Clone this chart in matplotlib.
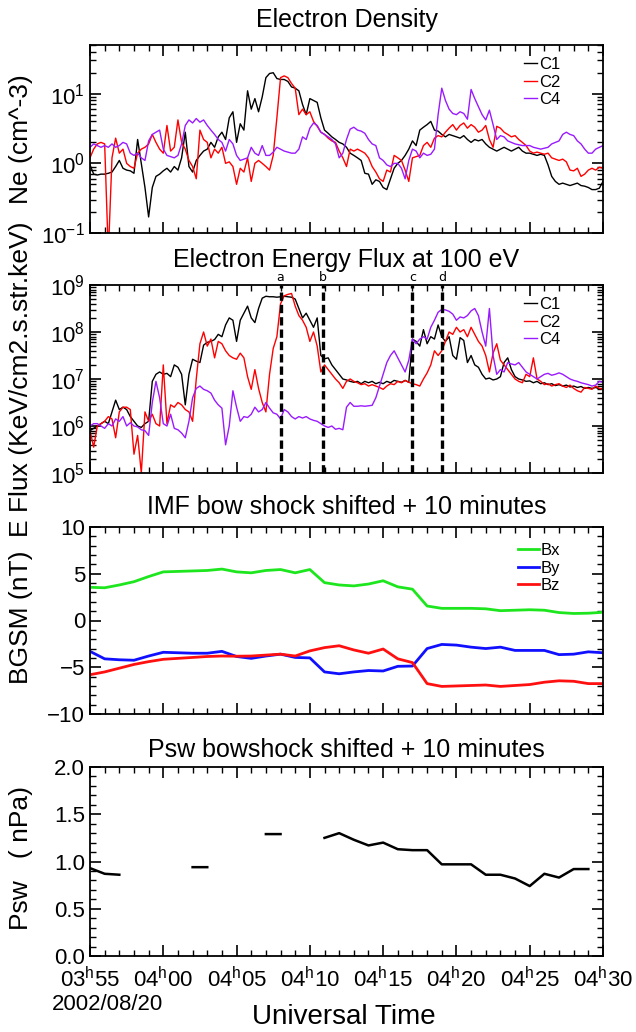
"""
Cluster electron density / 100 eV electron energy flux on 2002-08-20,
with the bow-shock shifted IMF and solar-wind pressure below.
Writes out.png.
"""

import numpy as np
import matplotlib
matplotlib.use("Agg")
import matplotlib.pyplot as plt
from matplotlib.ticker import FixedLocator, FuncFormatter, LogLocator, MultipleLocator

# ---------------------------------------------------------------- data
# minutes after 03:55 UT; C1/C2/C4 samples every 15 s
t_fast = np.arange(0, 35.01, 0.25)

# electron density (cm^-3)
ne_c1 = [0.95, 0.7, 0.68, 0.7, 0.7, 0.72, 0.75, 0.9,
         1.1, 0.85, 0.8, 0.78, 0.72, 2.2, 1.0, 0.45,
         0.17, 0.45, 0.65, 0.7, 0.78, 0.85, 0.75, 0.9,
         0.8, 1.2, 2.8, 0.9, 0.75, 1.1, 1.3, 1.5,
         1.6, 2.0, 1.7, 2.4, 2.8, 2.2, 4.5, 5.5,
         2.0, 3.7, 3.0, 11.0, 6.0, 8.5, 5.5, 9.0,
         17.0, 19.5, 20.0, 16.5, 16.0, 16.0, 15.0, 12.5,
         12.0, 11.0, 7.0, 5.0, 8.5, 8.0, 7.5, 4.5,
         3.0, 2.7, 2.4, 2.2, 2.0, 1.9, 1.7, 1.4,
         1.3, 1.2, 1.1, 0.72, 0.7, 0.5, 0.58, 0.55,
         0.45, 0.42, 0.6, 0.85, 1.0, 1.1, 1.3, 1.6,
         2.1, 1.8, 3.0, 3.3, 3.6, 4.0, 3.0, 2.9,
         2.6, 2.4, 2.6, 2.5, 2.4, 2.3, 2.5, 2.2,
         2.0, 2.2, 2.1, 2.2, 1.9, 1.7, 1.6, 1.5,
         1.6, 1.7, 1.6, 1.5, 1.6, 1.7, 1.5, 1.4,
         1.4, 1.35, 1.3, 1.35, 1.3, 0.95, 0.65, 0.55,
         0.5, 0.52, 0.5, 0.48, 0.5, 0.52, 0.48, 0.47,
         0.45, 0.42, 0.42, 0.44, 0.55]
ne_c2 = [1.2, 1.6, 1.9, 2.0, 1.9, 0.05, 1.2, 2.3,
         1.4, 1.6, 1.0, 0.9, 0.85, 1.4, 1.6, 1.7,
         1.9, 2.6, 2.0, 1.6, 1.4, 3.5, 1.5, 1.7,
         4.2, 2.0, 1.6, 1.1, 0.9, 0.6, 3.0, 2.2,
         2.0, 1.2, 1.6, 1.4, 1.7, 1.0, 1.05, 0.9,
         0.5, 0.85, 0.75, 1.2, 0.55, 1.0, 1.1, 1.0,
         0.9, 0.8, 1.3, 4.5, 17.0, 18.0, 17.0, 14.0,
         12.0, 5.0, 6.0, 5.0, 5.5, 4.0, 3.4, 2.8,
         2.6, 2.3, 2.1, 2.0, 1.5, 1.2, 0.9, 1.6,
         1.5, 1.6, 1.5, 1.4, 1.2, 0.9, 0.75, 0.6,
         0.55, 0.8, 0.75, 1.3, 1.2, 1.1, 0.8, 0.55,
         1.2, 1.25, 1.3, 1.8, 2.0, 1.7, 2.3, 2.5,
         2.4, 2.8, 3.2, 3.6, 3.0, 3.5, 3.8, 3.2,
         3.6, 3.3, 2.8, 3.0, 3.5, 2.2, 1.7, 3.4,
         3.2, 2.8, 2.6, 2.4, 2.5, 2.2, 2.0, 1.8,
         1.5, 1.4, 1.45, 1.4, 1.35, 1.4, 1.2, 1.15,
         1.1, 1.15, 1.05, 0.8, 0.78, 0.85, 0.65, 0.7,
         0.8, 0.85, 0.8, 0.88, 0.85]
ne_c4 = [1.7, 1.9, 1.8, 1.7, 1.8, 1.7, 1.9, 1.7,
         1.8, 2.0, 1.9, 1.4, 1.3, 1.4, 1.2, 1.1,
         2.1, 2.6, 2.8, 3.0, 1.6, 1.3, 1.25, 1.2,
         1.3, 1.9, 3.5, 4.2, 3.8, 4.4, 3.9, 4.2,
         3.5, 3.0, 2.6, 2.2, 2.0, 1.5, 2.2, 1.9,
         1.3, 1.1, 1.15, 1.2, 1.7, 1.4, 1.3, 1.8,
         1.3, 1.3, 1.45, 1.7, 1.6, 1.5, 1.45, 1.4,
         1.4, 1.6, 2.4, 2.2, 3.2, 3.8, 3.5, 2.8,
         2.6, 2.4, 2.2, 1.9, 1.2, 1.4, 2.2, 3.1,
         3.3, 3.0, 2.9, 2.7, 2.2, 1.9, 1.8, 1.2,
         1.1, 0.95, 0.9, 1.0, 1.0, 0.85, 0.6, 1.1,
         1.6, 1.5, 1.2, 1.4, 1.3, 1.35, 1.6, 5.0,
         12.0, 8.0, 6.0, 5.2, 5.0, 5.5, 5.2, 4.3,
         11.5, 8.5, 6.5, 5.0, 4.2, 5.8, 3.6, 2.2,
         2.5, 2.4, 2.1, 2.0, 1.9, 1.85, 1.8, 1.8,
         1.8, 1.7, 1.65, 1.6, 1.65, 1.7, 1.9, 2.0,
         2.1, 2.6, 2.8, 2.6, 2.5, 2.1, 1.9, 1.6,
         1.4, 1.4, 1.6, 1.7, 1.8]

# log10 of 100 eV electron energy flux (keV/cm2.s.str.keV)
lflux_c1 = [5.9, 5.95, 6.0, 6.05, 6.1, 6.05, 6.3, 6.55,
            6.35, 6.4, 6.35, 6.2, 6.1, 6.0, 5.97, 6.05,
            6.1, 6.95, 7.1, 7.15, 7.1, 7.12, 7.05, 7.3,
            7.25, 7.1, 6.45, 7.1, 7.42, 7.38, 7.35, 7.72,
            7.78, 7.8, 7.84, 7.95, 7.9, 8.15, 8.3, 8.25,
            7.8, 8.25, 8.4, 8.55, 8.3, 8.2, 8.5, 8.72,
            8.76, 8.75, 8.75, 8.74, 8.75, 8.76, 8.75, 8.74,
            8.7, 8.5, 8.3, 8.4, 8.25, 8.1, 8.3, 7.5,
            7.43, 7.45, 7.3, 7.2, 7.1, 7.0, 6.98, 6.95,
            6.93, 6.95, 6.9, 6.95, 6.92, 6.95, 6.9, 6.93,
            6.9, 6.95, 6.92, 6.97, 6.95, 6.93, 6.97, 6.93,
            7.85, 7.8, 7.7, 8.05, 7.75, 7.9, 7.85, 8.15,
            7.9, 7.8, 7.9, 7.5, 7.42, 7.88, 7.82, 7.35,
            7.5, 7.3, 7.25, 7.1, 7.0, 7.02, 6.98, 7.0,
            7.05, 7.35, 7.45, 7.2, 7.05, 7.0, 6.98, 6.95,
            6.96, 6.92, 6.95, 6.9, 6.92, 6.88, 6.9, 6.86,
            6.88, 6.85, 6.87, 6.83, 6.85, 6.82, 6.84, 6.8,
            6.82, 6.8, 6.82, 6.79, 6.8]
lflux_c2 = [5.9, 5.55, 6.0, 6.05, 6.1, 6.2, 6.15, 5.75,
            6.3, 6.4, 6.4, 6.35, 5.4, 5.8, 5.0, 6.3,
            6.1, 6.25, 6.05, 6.0, 7.3, 6.05, 6.45, 6.4,
            6.5, 6.45, 6.35, 6.3, 6.1, 7.0, 7.75, 8.0,
            7.7, 7.85, 7.45, 7.8, 7.75, 7.6, 7.5, 7.45,
            7.42, 7.55, 7.45, 7.05, 6.78, 7.2, 6.8, 6.5,
            6.3, 7.1, 7.65, 7.9, 8.6, 8.77, 8.8, 8.82,
            8.55, 8.35, 8.25, 8.1, 7.8, 8.0, 7.7, 7.15,
            7.3, 7.2, 7.1, 7.0, 6.92, 6.8, 6.95, 7.0,
            6.95, 6.92, 6.88, 6.9, 6.85, 6.88, 6.85, 6.82,
            6.78, 6.85, 6.9, 6.88, 6.95, 6.92, 6.97, 6.93,
            6.9, 6.88, 6.85, 7.0, 7.13, 7.3, 7.6, 7.5,
            7.6, 7.8, 8.0, 7.95, 8.1, 8.0, 8.05, 7.9,
            8.1, 7.95, 7.8, 7.7, 7.5, 7.15, 7.55, 7.75,
            7.4, 7.3, 7.2, 7.1, 7.0, 6.95, 6.92, 7.1,
            7.05, 7.45, 7.0, 6.95, 6.88, 6.9, 6.85, 6.88,
            6.9, 6.85, 6.82, 6.87, 6.8, 6.75, 6.72, 6.82,
            6.8, 6.78, 6.85, 6.8, 6.78]
lflux_c4 = [6.0, 6.05, 6.05, 6.0, 5.95, 6.05, 6.0, 6.15,
            6.1, 6.2, 6.0, 6.07, 6.0, 5.98, 5.92, 5.9,
            5.8, 6.5, 6.95, 6.6, 6.05, 6.0, 6.25, 5.95,
            5.92, 5.85, 5.75, 6.1, 6.6, 6.8, 6.85, 6.78,
            6.75, 6.7, 6.55, 6.45, 6.38, 5.6, 6.0, 6.75,
            6.4, 6.1, 6.2, 6.18, 6.25, 6.4, 6.3, 6.35,
            6.5, 6.38, 6.28, 6.25, 6.15, 6.35, 6.3, 6.2,
            6.15, 6.2, 6.17, 6.2, 6.15, 6.12, 6.1, 6.05,
            6.0, 5.97, 6.0, 5.93, 5.95, 5.92, 6.4, 6.5,
            6.42, 6.42, 6.43, 6.42, 6.43, 6.44, 6.6, 6.85,
            7.1, 7.35, 7.5, 7.6, 7.45, 7.3, 7.15, 7.4,
            7.85, 7.75, 7.85, 7.9, 7.85, 8.1, 8.25, 8.42,
            8.48, 8.47, 8.44, 8.38, 8.25, 8.32, 8.3, 8.35,
            8.45, 8.5, 8.35, 8.0, 7.7, 8.5, 7.5, 7.1,
            7.2, 7.15, 7.35, 7.32, 7.3, 7.35, 7.25, 7.15,
            7.1, 7.05, 7.0, 7.05, 7.1, 7.12, 7.08, 7.1,
            7.13, 7.1, 7.05, 7.0, 6.97, 6.95, 6.92, 6.9,
            6.88, 6.85, 6.87, 6.95, 6.93]

# event markers (minutes after 03:55)
event_t = [13.0, 15.9, 22.0, 24.0]
event_lbl = ["a", "b", "c", "d"]

# solar wind, 1-min values, minutes after 03:55
t_sw = np.arange(0, 36)
bx = [3.55, 3.5, 3.8, 4.15, 4.7, 5.2, 5.25, 5.3, 5.35, 5.5, 5.2, 5.1,
      5.35, 5.45, 5.1, 5.45, 4.05, 3.8, 3.7, 3.9, 4.25, 3.6, 3.35, 1.55,
      1.3, 1.3, 1.3, 1.25, 1.05, 1.1, 1.15, 1.1, 0.85, 0.75, 0.78, 0.88]
by = [-3.3, -4.1, -4.2, -4.25, -3.8, -3.4, -3.45, -3.5, -3.5, -3.3, -3.85, -4.05,
      -3.8, -3.6, -3.95, -4.0, -5.5, -5.7, -5.5, -5.35, -5.4, -4.9, -4.87, -3.0,
      -2.56, -2.63, -2.85, -3.0, -2.85, -3.2, -3.2, -3.2, -3.65, -3.6, -3.35, -3.45]
bz = [-5.8, -5.5, -5.1, -4.7, -4.4, -4.15, -4.05, -3.95, -3.85, -3.8, -3.82, -3.8,
      -3.7, -3.6, -3.8, -3.25, -2.9, -2.7, -3.15, -3.5, -3.05, -4.1, -4.5, -6.75,
      -7.05, -7.0, -6.95, -6.9, -7.05, -6.95, -6.85, -6.6, -6.45, -6.5, -6.75, -6.75]
nan = np.nan
psw = [0.93, 0.87, 0.86, nan, nan, nan, nan, 0.94, 0.94, nan, nan, nan,
       1.29, 1.29, nan, nan, 1.25, 1.30, 1.23, 1.17, 1.20, 1.13, 1.12, 1.12,
       0.97, 0.97, 0.97, 0.86, 0.86, 0.82, 0.74, 0.87, 0.83, 0.92, 0.92, nan]

x_ticks = [0, 5, 10, 15, 20, 25, 30, 35]
x_tick_lbl = ["03$^\\mathregular{h}$55", "04$^\\mathregular{h}$00", "04$^\\mathregular{h}$05",
              "04$^\\mathregular{h}$10", "04$^\\mathregular{h}$15", "04$^\\mathregular{h}$20",
              "04$^\\mathregular{h}$25", "04$^\\mathregular{h}$30"]

# ---------------------------------------------------------------- style
plt.rcParams["font.family"] = ["Liberation Sans", "DejaVu Sans"]
plt.rcParams["mathtext.fontset"] = "custom"
plt.rcParams["mathtext.rm"] = "Liberation Sans"
plt.rcParams["mathtext.it"] = "Liberation Sans:italic"
plt.rcParams["axes.linewidth"] = 1.3

PURPLE = "#9a1aff"
W, H = 636, 1032
TITLE_FS = 18
YLAB_FS = 19


def frame(ax, ylabel, ylab_y):
    ax.set_xlim(0, 35)
    ax.xaxis.set_major_locator(FixedLocator(x_ticks))
    ax.xaxis.set_minor_locator(MultipleLocator(1))
    ax.tick_params(which="both", direction="in", top=True, right=True, labelsize=16)
    ax.tick_params(which="major", length=8, width=1.2)
    ax.tick_params(which="minor", length=4, width=1.0)
    ax.tick_params(axis="x", labelbottom=False)
    ax.set_ylabel(ylabel, fontsize=YLAB_FS)
    ax.yaxis.set_label_coords(-0.112, ylab_y)


def box(top, bottom):
    return [90 / W, 1 - bottom / H, 513 / W, (bottom - top) / H]


fig = plt.figure(figsize=(W / 100, H / 100), dpi=100)

# -- panel 1: density
ax1 = fig.add_axes(box(45, 233))
ax1.plot(t_fast, ne_c1, color="k", lw=1.0, label="C1")
ax1.plot(t_fast, ne_c2, color="red", lw=1.0, label="C2")
ax1.plot(t_fast, ne_c4, color=PURPLE, lw=1.0, label="C4")
ax1.set_yscale("log")
ax1.set_ylim(0.1, 50)
ax1.yaxis.set_minor_locator(LogLocator(subs=np.arange(2, 10)))
frame(ax1, "Ne (cm^-3)", 0.5)
ax1.set_title("Electron Density", fontsize=TITLE_FS, pad=13)
ax1.legend(loc="upper right", bbox_to_anchor=(0.93, 0.97), frameon=False, fontsize=12,
           handlelength=0.8, handletextpad=0.1, labelspacing=0.15, borderaxespad=0)

# -- panel 2: 100 eV flux
ax2 = fig.add_axes(box(285, 473))
ax2.plot(t_fast, 10 ** np.array(lflux_c1), color="k", lw=1.0, label="C1")
ax2.plot(t_fast, 10 ** np.array(lflux_c2), color="red", lw=1.0, label="C2")
ax2.plot(t_fast, 10 ** np.array(lflux_c4), color=PURPLE, lw=1.0, label="C4")
ax2.set_yscale("log")
ax2.set_ylim(1e5, 1e9)
ax2.yaxis.set_minor_locator(LogLocator(subs=np.arange(2, 10)))
for te, lb in zip(event_t, event_lbl):
    ax2.axvline(te, color="k", lw=2.4, ls=(0, (2.5, 1.2)))
    ax2.text(te, 1.005, lb, transform=ax2.get_xaxis_transform(), ha="center", va="bottom",
             fontsize=9, family="DejaVu Sans")
frame(ax2, "E Flux (KeV/cm2.s.str.keV)", 0.5)
ax2.set_title("Electron Energy Flux at 100 eV", fontsize=TITLE_FS, pad=13)
ax2.legend(loc="upper right", bbox_to_anchor=(0.93, 0.97), frameon=False, fontsize=12,
           handlelength=0.8, handletextpad=0.1, labelspacing=0.15, borderaxespad=0)

# -- panel 3: IMF
ax3 = fig.add_axes(box(527, 714))
ax3.plot(t_sw, bx, color="#1ee61e", lw=2.0, label="Bx")
ax3.plot(t_sw, by, color="#1010ff", lw=2.0, label="By")
ax3.plot(t_sw, bz, color="#ff1010", lw=2.0, label="Bz")
ax3.set_ylim(-10, 10)
ax3.yaxis.set_major_locator(MultipleLocator(5))
ax3.yaxis.set_minor_locator(MultipleLocator(1))
frame(ax3, "BGSM (nT)", 0.52)
ax3.set_title("IMF bow shock shifted + 10 minutes", fontsize=TITLE_FS, pad=9)
ax3.legend(loc="upper right", bbox_to_anchor=(0.93, 0.95), frameon=False, fontsize=12,
           handlelength=1.3, handletextpad=0.1, labelspacing=0.15, borderaxespad=0)

# -- panel 4: Psw
ax4 = fig.add_axes(box(767, 956))
ax4.plot(t_sw, psw, color="k", lw=1.8)
ax4.set_ylim(0, 2)
ax4.yaxis.set_major_locator(MultipleLocator(0.5))
ax4.yaxis.set_minor_locator(MultipleLocator(0.1))
ax4.yaxis.set_major_formatter(FuncFormatter(lambda v, _: f"{v:.1f}"))
frame(ax4, "Psw   ( nPa)", 0.52)
ax4.tick_params(axis="x", labelbottom=True, labelsize=16, pad=8)
ax4.set_xticklabels(x_tick_lbl)
ax4.set_title("Psw bowshock shifted + 10 minutes", fontsize=TITLE_FS, pad=7)

fig.text(52 / W, 1 - 1005 / H, "2002/08/20", fontsize=16, ha="left", va="center")
fig.text(344 / W, 1 - 1017 / H, "Universal Time", fontsize=20, ha="center", va="center")

fig.savefig("out.png", dpi=100)
